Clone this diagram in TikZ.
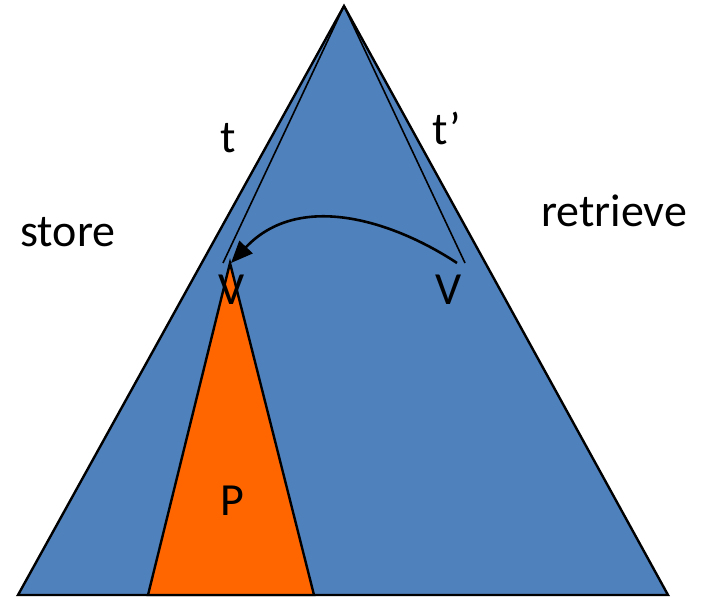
\documentclass[tikz,border=0pt]{standalone}
\usepackage{fontspec}
\setmainfont{Carlito}
\usetikzlibrary{arrows.meta}
\definecolor{treeBlue}{HTML}{4F81BD}
\definecolor{subOrange}{HTML}{FF6600}
\tikzset{
  lbl/.style={anchor=base, inner sep=0pt, font=\fontsize{23}{26}\selectfont},
  edgeLine/.style={black, line width=0.8pt},
}
\begin{document}
\begin{tikzpicture}[x=0.5pt,y=-0.5pt]
\useasboundingbox (0,0) rectangle (705,597);
\coordinate (apex) at (344,6);
\coordinate (baseL) at (18,595);
\coordinate (baseR) at (668,595);
\coordinate (pTop) at (230,263);
\coordinate (pL) at (148,595);
\coordinate (pR) at (314,595);
\coordinate (tEnd) at (223,263);
\coordinate (tpEnd) at (465,263);
\coordinate (arrStart) at (457,263);
\coordinate (arrEnd) at (231,263);
\filldraw[fill=treeBlue, draw=black, line width=1.2pt, line join=miter] (apex) -- (baseR) -- (baseL) -- cycle;
\filldraw[fill=subOrange, draw=black, line width=1.2pt] (pTop) -- (pR) -- (pL) -- cycle;
\draw[edgeLine] (apex) -- (tEnd);
\draw[edgeLine] (apex) -- (tpEnd);
\draw[black, line width=1.3pt, -{Triangle[length=11pt,width=9pt]}] (arrStart) .. controls (395,222) and (300,190) .. (arrEnd);
\node[lbl] (tLbl) at (228,153) {t};
\node[lbl] (tpLbl) at (447,145) {t’};
\node[lbl] (storeLbl) at (68,247) {store};
\node[lbl] (retrieveLbl) at (614,227) {retrieve};
\node[lbl] (vLeft) at (232,305) {V};
\node[lbl] (vRight) at (449,305) {V};
\node[lbl] (pLbl) at (232,515) {P};
\end{tikzpicture}
\end{document}
